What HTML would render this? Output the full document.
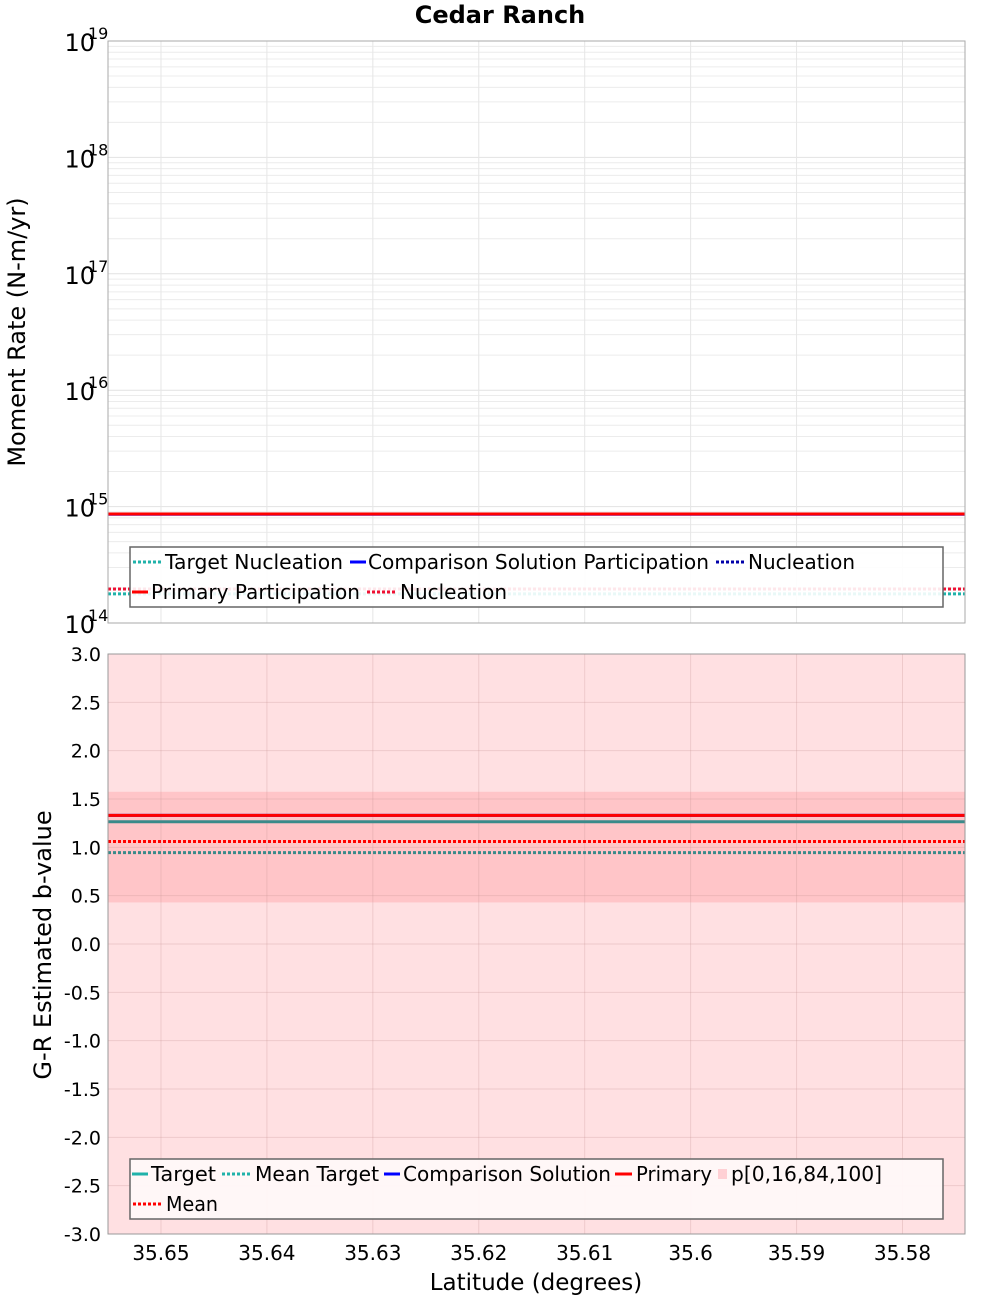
<!DOCTYPE html>
<html><head><meta charset="utf-8"><style>
body{margin:0;background:#fff;}
svg{display:block;font-family:"DejaVu Sans","Liberation Sans",sans-serif;}
</style></head><body>
<svg id="c" width="1000" height="1300" xmlns="http://www.w3.org/2000/svg"></svg>
<script>
const xTicks=[35.65,35.64,35.63,35.62,35.61,35.6,35.59,35.58];
const xDomain=[35.655,35.5741];
const topDecades=[14,15,16,17,18,19];
const topPrimaryPart=8.64e14, topCompPart=8.6e14;
const topPrimaryNucl=1.96e14, topCompNucl=1.96e14, topTargetNucl=1.78e14;
const botTicks=[-3,-2.5,-2,-1.5,-1,-0.5,0,0.5,1,1.5,2,2.5,3];
const bandOuter=[-3,3], bandInner=[0.43,1.575];
const bPrimary=1.33, bTarget=1.265, bMean=1.06, bMeanTarget=0.945, bComp=1.33;

const S=document.getElementById('c'),NS="http://www.w3.org/2000/svg";
function el(t,a,p,txt){const e=document.createElementNS(NS,t);for(const k in a)e.setAttribute(k,a[k]);if(txt!==undefined)e.textContent=txt;(p||S).appendChild(e);return e;}
const L=108,R=965;
const X=v=>L+(v-xDomain[0])/(xDomain[1]-xDomain[0])*(R-L);
const T0=41,T1=623;const YT=v=>T1-(Math.log10(v)-14)/5*(T1-T0);
const B0=654,B1=1234;const YB=v=>B1-(v+3)/6*(B1-B0);

el('text',{x:500,y:23,'text-anchor':'middle','font-size':24,'font-weight':'bold',},S,'Cedar Ranch');

// top panel
const gt=el('g',{});
el('rect',{x:L,y:T0,width:R-L,height:T1-T0,fill:'#fff'},gt);
for(let d=14;d<19;d++)for(let m=2;m<=9;m++){const y=YT(m*Math.pow(10,d));el('line',{x1:L,x2:R,y1:y,y2:y,stroke:'#ececec'},gt);}
topDecades.forEach(d=>{const y=YT(Math.pow(10,d));el('line',{x1:L,x2:R,y1:y,y2:y,stroke:'#e2e2e2'},gt);
 el('text',{x:95,y:y+10,'text-anchor':'end','font-size':24,},gt,'10');
 el('text',{x:88,y:y-2,'font-size':16,},gt,String(d));});
xTicks.forEach(v=>el('line',{x1:X(v),x2:X(v),y1:T0,y2:T1,stroke:'#e6e6e6'},gt));
function hl(g,y,c,w,dash,name){const a={x1:L,x2:R,y1:y,y2:y,stroke:c,'stroke-width':w,};if(dash)a['stroke-dasharray']=dash;el('line',a,g);}
hl(gt,YT(topTargetNucl),'#20b2aa',3,'3,2','target-nucleation-line');
hl(gt,YT(topCompNucl),'#ffb0c0',3,'3,2','comparison-nucleation-line');
hl(gt,YT(topPrimaryNucl),'#ee1133',3,'3,2','primary-nucleation-line');
hl(gt,YT(topCompPart),'#0000ff',3,null,'comparison-participation-line');
hl(gt,YT(topPrimaryPart),'#ff0000',3,null,'primary-participation-line');
el('rect',{x:L,y:T0,width:R-L,height:T1-T0,fill:'none',stroke:'#aaa'},gt);
el('text',{x:25,y:332,'text-anchor':'middle','font-size':24,transform:'rotate(-90 25 332)',},gt,'Moment Rate (N-m/yr)');
// legends
function le(g,sx0,sx1,y,c,dash,tx,tw,label,name){const a={x1:sx0,x2:sx1,y1:y,y2:y,stroke:c,'stroke-width':3,};if(dash)a['stroke-dasharray']=dash;el('line',a,g);
 el('text',{x:tx,y:y+7,'font-size':20,textLength:tw,lengthAdjust:'spacingAndGlyphs',},g,label);}
const lg=el('g',{});
el('rect',{x:130,y:547,width:813,height:60,fill:'rgba(255,255,255,0.9)',stroke:'#666','stroke-width':1.5},lg);
le(lg,133,161,562,'#20b2aa','3,2',165,178,'Target Nucleation','legend-target-nucleation');
le(lg,350,366,562,'#0000ff',null,368,341,'Comparison Solution Participation','legend-comparison-participation');
le(lg,716,745,562,'#0000aa','3,2',748,107,'Nucleation','legend-comparison-nucleation');
le(lg,132,148,592,'#ff0000',null,151,209,'Primary Participation','legend-primary-participation');
le(lg,367,397,592,'#ee1133','3,2',400,107,'Nucleation','legend-primary-nucleation');

// bottom panel
const gb=el('g',{});
el('rect',{x:L,y:B0,width:R-L,height:B1-B0,fill:'#fff'},gb);
el('rect',{x:L,y:YB(bandOuter[1]),width:R-L,height:YB(bandOuter[0])-YB(bandOuter[1]),fill:'#ffe0e2',},gb);
el('rect',{x:L,y:YB(bandInner[1]),width:R-L,height:YB(bandInner[0])-YB(bandInner[1]),fill:'#ffc5c8',},gb);
botTicks.forEach(v=>{const y=YB(v);el('line',{x1:L,x2:R,y1:y,y2:y,stroke:'rgba(200,150,150,0.3)'},gb);
 el('text',{x:101,y:y+7,'text-anchor':'end','font-size':19,},gb,v.toFixed(1));});
xTicks.forEach(v=>{const x=X(v);el('line',{x1:x,x2:x,y1:B0,y2:B1,stroke:'rgba(200,150,150,0.3)'},gb);
 el('text',{x:x,y:1260,'text-anchor':'middle','font-size':20,},gb,String(v));});
hl(gb,YB(bMeanTarget),'#3a8a8a',3,'3,2','mean-target-line');
hl(gb,YB(bMean),'#ff0000',3,'3,2','mean-line');
hl(gb,YB(bTarget),'#3a8a8a',3,null,'target-line');
hl(gb,YB(bComp),'#0000ff',3,null,'comparison-line');
hl(gb,YB(bPrimary),'#ff0000',3,null,'primary-line');
el('rect',{x:L,y:B0,width:R-L,height:B1-B0,fill:'none',stroke:'#999'},gb);
el('text',{x:51,y:945,'text-anchor':'middle','font-size':24,transform:'rotate(-90 51 945)',},gb,'G-R Estimated b-value');
el('text',{x:536,y:1290,'text-anchor':'middle','font-size':23,},gb,'Latitude (degrees)');
const lb=el('g',{});
el('rect',{x:130,y:1159,width:813,height:60,fill:'rgba(255,248,248,0.95)',stroke:'#666','stroke-width':1.5},lb);
le(lb,132,148,1174,'#20b2aa',null,151,65,'Target','legend-target');
le(lb,222,251,1174,'#20b2aa','3,2',255,124,'Mean Target','legend-mean-target');
le(lb,384,400,1174,'#0000ff',null,403,208,'Comparison Solution','legend-comparison');
le(lb,615,632,1174,'#ff0000',null,636,76,'Primary','legend-primary');
el('rect',{x:718,y:1169,width:9,height:10,fill:'#ffd0d4'},lb);
el('text',{x:731,y:1181,'font-size':20,textLength:151,lengthAdjust:'spacingAndGlyphs',},lb,'p[0,16,84,100]');
le(lb,133,162,1204,'#ff0000','3,2',166,52,'Mean','legend-mean');
</script>
</body></html>
